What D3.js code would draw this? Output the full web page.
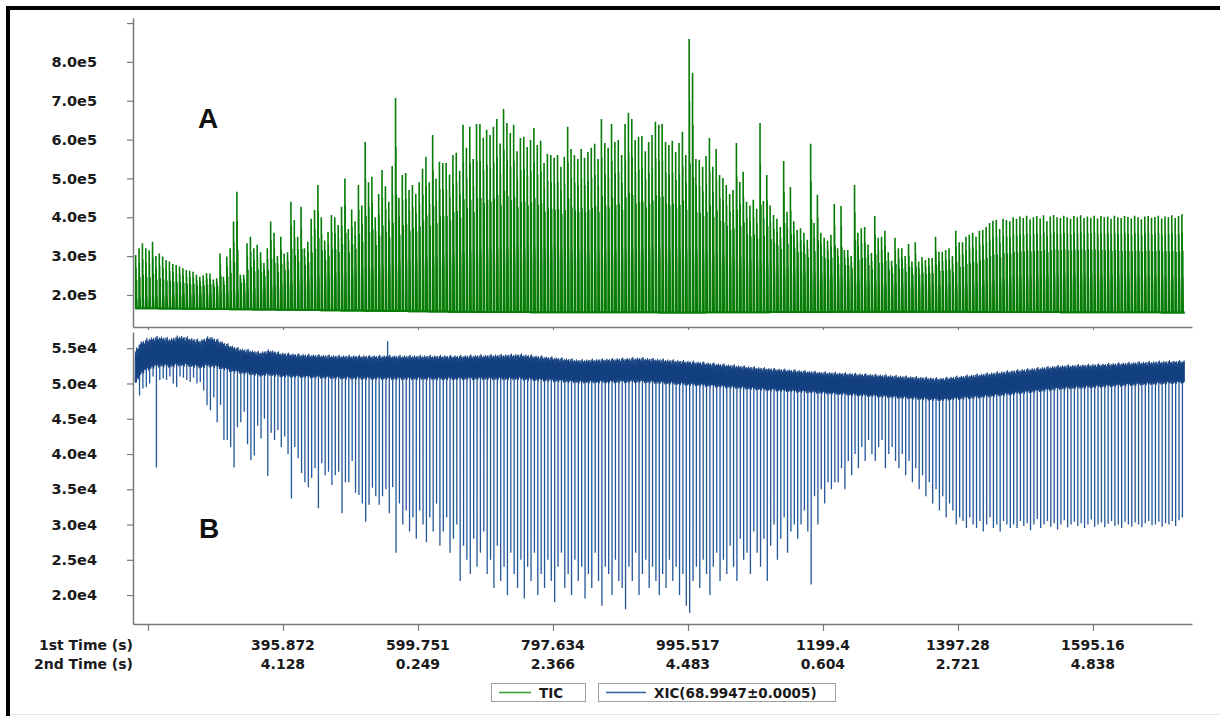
<!DOCTYPE html>
<html>
<head>
<meta charset="utf-8">
<script src="https://cdn.jsdelivr.net/npm/d3@7"></script>
<style>
  body { margin: 0; background: #fff; }
  svg { display: block; }
</style>
</head>
<body>
<script>
// ---- data ----

// x ticks: total time (s) and the two label rows
var tickTimes = [200, 400, 600, 800, 1000, 1200, 1400, 1600];
var firstTimeLabels = ["", "395.872", "599.751", "797.634", "995.517", "1199.4", "1397.28", "1595.16"];
var secondTimeLabels = ["", "4.128", "0.249", "2.366", "4.483", "0.604", "2.721", "4.838"];

// y ticks
var ticTicks = [2, 3, 4, 5, 6, 7, 8, 9];            // x1e5
var xicTicks = [2.0, 2.5, 3.0, 3.5, 4.0, 4.5, 5.0, 5.5]; // x1e4

// modulation cycles: one per 5 s, starting at 181 s
var cycleStart = 181, cyclePeriod = 5;

// TIC: main peak of each modulation cycle (x1e5)
var ticPeaks = [
  3.03, 3.2, 3.33, 3.2, 3.15, 3.37, 3.0, 3.07, 2.99, 2.9,
  2.86, 2.8, 2.77, 2.73, 2.69, 2.64, 2.62, 2.6, 2.52, 2.47,
  2.5, 2.56, 2.55, 2.4, 2.43, 3.07, 2.47, 2.99, 3.2, 3.89,
  4.66, 2.52, 2.52, 3.33, 3.5, 3.2, 3.29, 3.1, 2.82, 3.2,
  3.89, 3.6, 3.0, 3.5, 3.07, 3.1, 4.4, 3.93, 3.5, 4.27,
  3.2, 3.37, 3.96, 4.19, 4.83, 4.0, 3.4, 3.62, 4.06, 4.0,
  3.8, 4.27, 5.0, 3.7, 4.2, 3.9, 4.83, 4.3, 5.94, 4.9,
  5.04, 4.0, 4.6, 5.22, 4.8, 4.4, 5.32, 7.07, 4.5, 5.09,
  5.14, 4.7, 4.83, 4.6, 4.9, 5.25, 5.56, 4.9, 6.12, 5.0,
  5.43, 5.4, 5.4, 5.1, 5.6, 5.66, 5.2, 6.38, 5.79, 6.33,
  5.5, 6.4, 6.4, 6.05, 6.25, 6.12, 6.33, 6.53, 5.9, 6.79,
  6.43, 6.17, 6.38, 5.7, 6.04, 6.07, 5.81, 5.99, 6.3, 5.86,
  5.97, 5.4, 5.63, 5.6, 5.53, 5.6, 5.3, 5.56, 6.33, 5.76,
  5.6, 5.5, 5.76, 5.53, 5.68, 5.79, 5.89, 5.5, 6.53, 5.91,
  5.79, 6.4, 5.94, 5.99, 5.6, 6.4, 6.69, 6.53, 5.99, 6.07,
  6.09, 5.7, 5.94, 6.12, 6.46, 6.38, 6.4, 5.94, 5.86, 5.97,
  5.68, 5.91, 6.2, 5.6, 8.59, 7.72, 5.5, 5.48, 5.3, 5.58,
  6.04, 5.3, 5.76, 5.09, 5.01, 4.83, 4.6, 4.7, 5.91, 4.91,
  5.17, 4.4, 4.3, 4.45, 4.22, 6.43, 4.42, 5.09, 4.3, 4.06,
  3.96, 3.75, 5.45, 4.14, 4.78, 3.9, 3.67, 3.72, 3.6, 3.42,
  5.89, 3.85, 4.58, 3.6, 3.47, 3.4, 3.55, 4.34, 3.2, 4.29,
  3.16, 3.16, 3.0, 4.83, 3.6, 3.72, 3.75, 3.3, 3.08, 4.03,
  3.47, 3.5, 3.65, 3.1, 2.88, 3.47, 3.2, 3.2, 3.0, 3.31,
  2.86, 3.36, 2.86, 2.98, 2.9, 2.95, 2.95, 3.5, 3.11, 3.11,
  3.16, 3.2, 3.0, 3.65, 3.36, 3.36, 3.5, 3.55, 3.6, 3.5,
  3.65, 3.67, 3.75, 3.85, 3.91, 3.93, 3.7, 3.96, 3.93, 3.9,
  4.0, 3.96, 4.02, 3.98, 4.04, 3.95, 4.0, 4.03, 3.97, 4.05,
  3.9, 4.02, 4.06, 4.0, 3.98, 4.04, 4.0, 3.96, 4.03, 4.0,
  4.05, 3.98, 4.02, 3.99, 4.04, 3.97, 4.03, 4.0, 4.02, 3.96,
  4.04, 4.0, 3.98, 4.03, 4.01, 3.97, 4.04, 4.0, 3.95, 4.02,
  4.03, 3.99, 4.01, 4.04, 3.97, 4.02, 4.0, 4.05, 3.98, 4.03,
  4.08
];

// TIC dense band top and baseline (x1e5) at given times
var ticFillTimes  = [181, 250, 300, 350, 400, 450, 500, 550, 600, 650, 700, 750, 800, 850, 900, 950,
                     1000, 1050, 1100, 1150, 1200, 1250, 1300, 1350, 1400, 1450, 1500, 1550, 1600, 1650, 1700, 1736];
var ticFillValues = [1.95, 2.05, 2.1, 2.2, 2.35, 2.55, 2.7, 2.85, 3.0, 3.15, 3.25, 3.3, 3.3, 3.2, 3.25, 3.3,
                     3.25, 3.1, 2.95, 2.75, 2.6, 2.45, 2.35, 2.3, 2.3, 2.45, 2.55, 2.6, 2.6, 2.55, 2.55, 2.5];
var ticBaseTimes  = [181, 400, 700, 1000, 1300, 1500, 1736];
var ticBaseValues = [1.66, 1.62, 1.56, 1.55, 1.57, 1.56, 1.55];

// XIC: lowest point of the dip in each modulation cycle (x1e4)
var xicDips = [
  5.1, 4.83, 4.93, 4.95, 5.0, 5.1, 3.81, 5.05, 5.07, 5.05,
  5.1, 5.0, 4.95, 5.1, 5.08, 5.05, 5.02, 5.08, 5.0, 5.02,
  4.9, 4.69, 4.62, 4.8, 4.45, 4.7, 4.2, 4.2, 4.1, 3.81,
  4.38, 4.45, 4.6, 4.14, 3.91, 3.98, 4.4, 4.22, 4.5, 3.69,
  4.3, 4.2, 4.34, 4.1, 4.25, 4.0, 3.37, 4.1, 3.94, 3.73,
  3.6, 3.53, 3.66, 3.8, 3.23, 3.87, 3.7, 3.75, 3.56, 3.7,
  3.75, 3.16, 3.6, 3.6, 3.9, 3.45, 3.42, 3.3, 3.04, 3.28,
  3.52, 3.4, 3.28, 3.4, 3.5, 3.16, 3.53, 2.6,
  3.3, 3.0, 3.2, 2.9, 3.1, 2.8, 3.2, 3.0, 2.75, 3.1,
  2.9, 3.3, 2.7, 2.9, 3.1, 2.6, 2.8, 3.0, 2.2, 2.7,
  2.5, 2.3, 2.8, 2.4, 2.6, 2.9,
  2.3, 2.5, 2.1, 2.7, 2.2, 2.4, 2.0, 2.6, 2.3, 2.1,
  2.5, 1.95, 2.4, 2.2, 2.6, 2.0, 2.3, 2.1, 2.5, 2.2,
  1.9, 2.4, 2.6, 2.1, 2.3, 2.0, 2.5, 2.2, 2.4, 1.95,
  2.3, 2.1, 2.6, 2.2, 1.85, 2.4, 2.3, 2.0, 2.5, 2.2,
  2.1, 1.8, 2.4, 2.2, 2.6, 2.0, 2.3, 2.5, 2.1, 2.4,
  2.2, 2.0,
  2.3, 2.1, 2.5, 2.2, 2.4, 2.0, 2.3, 1.85, 1.75, 2.2,
  2.4, 2.1, 2.5, 2.3, 2.0, 2.4, 2.6, 2.2, 2.5, 2.3,
  2.7, 2.4, 2.2, 2.8, 2.5, 2.6, 2.3, 2.9, 2.6, 2.4,
  2.8, 2.2, 2.7, 3.0, 2.5, 2.8, 3.1, 2.6, 2.9, 3.0,
  2.8, 3.0, 3.2, 2.9, 2.15, 3.4, 3.0, 3.5, 3.3, 3.6,
  3.5, 3.6,
  3.6, 3.8, 3.5, 3.9, 3.7, 4.0, 3.8, 4.1, 3.9, 4.2,
  4.0, 3.9, 4.1, 4.2, 3.8, 4.0, 4.1, 3.9, 3.8, 4.0,
  3.7, 3.9, 3.6, 3.8, 3.5, 3.7, 3.4, 3.6, 3.3, 3.5,
  3.2, 3.4, 3.1, 3.3, 3.2, 3.0, 3.1, 3.05, 2.95, 3.1,
  3.0, 2.95, 3.05, 2.9, 3.0, 3.1, 2.95, 3.0, 2.9, 3.05,
  3.0, 2.95,
  3.0, 2.95, 3.05, 2.98, 3.02, 2.92, 3.0, 3.08, 2.95, 3.0,
  3.05, 2.97, 3.02, 2.93, 3.0, 3.06, 2.96, 3.0, 3.04, 2.98,
  3.02, 2.95, 3.0, 3.07, 2.97, 3.0, 3.03, 2.96, 3.01, 3.05,
  2.98, 3.0, 2.95, 3.04, 3.0, 2.97, 3.03, 3.0, 2.96, 3.02,
  3.05, 2.99, 3.0, 3.04, 2.97, 3.02, 3.0, 3.05, 2.98, 3.06,
  3.1
];

// XIC dense band: upper and lower edge (x1e4) at given times
var xicBandTimes  = [181, 188, 203, 218, 233, 247, 262, 277, 292, 307, 321, 336, 351, 366, 381, 396,
                     425, 484, 573, 662, 751, 840, 929, 1018, 1107, 1196, 1284, 1373, 1433, 1492,
                     1551, 1610, 1670, 1736];
var xicBandTop    = [5.44, 5.58, 5.64, 5.66, 5.63, 5.67, 5.64, 5.61, 5.66, 5.60, 5.54, 5.49, 5.47, 5.44, 5.47, 5.43,
                     5.41, 5.39, 5.39, 5.39, 5.41, 5.33, 5.36, 5.30, 5.22, 5.16, 5.12, 5.07, 5.13, 5.19,
                     5.25, 5.27, 5.30, 5.32];
var xicBandBottom = [5.00, 5.15, 5.24, 5.27, 5.26, 5.28, 5.27, 5.25, 5.27, 5.24, 5.20, 5.17, 5.15, 5.13, 5.14, 5.12,
                     5.11, 5.09, 5.08, 5.08, 5.08, 5.03, 5.04, 4.99, 4.93, 4.88, 4.83, 4.78, 4.82, 4.88,
                     4.94, 4.97, 5.00, 5.03];
// single upward spike in the XIC trace [time, x1e4]
var xicUpSpikes = [[555, 5.6]];

// shape of one modulation cycle (offset in s, relative level)
var ticCycleOffsets = [0.0, 0.35, 0.9, 1.4, 1.9, 2.4, 2.9, 3.4, 3.85, 4.99];
var ticCycleShape   = [0.0, 0.6, 0.95, 0.85, 1.05, 0.9, 1.0, 0.75, 0.0, 0.0];
var ticSubPeaks     = [[0.75, 1.0], [1.45, 0.7], [2.35, 0.4]];   // [offset s, share of main peak above band]
// XIC band outline over three cycles (offset s, relative level)
var xicCycleOffsets = [0.0, 0.6, 1.2, 1.8, 2.4, 3.0, 3.6, 4.2, 4.8,
                       5.3, 5.9, 6.5, 7.1, 7.7, 8.3, 8.9, 9.5,
                       10.1, 10.7, 11.3, 11.9, 12.5, 13.1, 13.7, 14.3];
var xicCycleTop     = [0.85, 1.0, 0.7, 0.9, 1.05, 0.8, 0.95, 0.72, 0.9,
                       0.78, 0.98, 0.86, 0.66, 0.94, 0.8, 1.02, 0.88,
                       0.92, 0.7, 0.96, 0.84, 1.0, 0.76, 0.9, 0.82];
var xicCycleBottom  = [0.05, 0.0, 0.12, -0.05, 0.0, 0.15, 0.0, 0.05, -0.1,
                       0.08, -0.05, 0.0, 0.14, 0.02, -0.08, 0.1, 0.0,
                       -0.04, 0.12, 0.0, 0.06, -0.1, 0.04, 0.0, 0.1];

// ---- layout ----
var W = 1220, H = 716;
var ticColor = "#077c07", xicColor = "#123f7f", axisColor = "#7a7a7a";

var svg = d3.select("body").append("svg")
    .attr("width", W)
    .attr("height", H);

// frame
svg.append("rect").attr("x", 0).attr("y", 0).attr("width", W).attr("height", H).attr("fill", "#fff");
svg.append("line").attr("x1", 6).attr("x2", W).attr("y1", 8).attr("y2", 8)
    .attr("stroke", "#000").attr("stroke-width", 4);
svg.append("line").attr("x1", 8).attr("x2", 8).attr("y1", 6).attr("y2", H)
    .attr("stroke", "#000").attr("stroke-width", 4);
svg.append("line").attr("x1", 10).attr("x2", W).attr("y1", 714.5).attr("y2", 714.5)
    .attr("stroke", "#e4e4e4").attr("stroke-width", 1);

// scales
var x = d3.scaleLinear().domain([177.8, 1746.7]).range([133, 1192]);
var yTic = d3.scaleLinear().domain([1.175, 9.13]).range([327, 18]);
var yXic = d3.scaleLinear().domain([1.59, 5.73]).range([624, 332]);

var ticFill = d3.scaleLinear().domain(ticFillTimes).range(ticFillValues);
var ticBase = d3.scaleLinear().domain(ticBaseTimes).range(ticBaseValues);
var xicTop = d3.scaleLinear().domain(xicBandTimes).range(xicBandTop);
var xicBot = d3.scaleLinear().domain(xicBandTimes).range(xicBandBottom);

// ---- TIC (panel A) ----
var ticBand = [];
ticPeaks.forEach(function(p, k) {
  var t0 = cycleStart + k * cyclePeriod;
  var b = ticBase(t0), f = ticFill(t0);
  ticCycleOffsets.forEach(function(o, i) {
    ticBand.push({t: t0 + o, lo: b, hi: b + ticCycleShape[i] * (f - b)});
  });
});

svg.append("path")
    .attr("fill", ticColor)
    .attr("d", d3.area()
      .x(d => x(d.t))
      .y0(d => yTic(d.lo) + 1)
      .y1(d => yTic(d.hi))(ticBand));

svg.append("path")
    .attr("fill", "none")
    .attr("stroke", ticColor)
    .attr("stroke-width", 2)
    .attr("d", d3.line().x(d => x(d.t)).y(d => yTic(d.lo))(ticBand));

var ticMain = "", ticMinor = "";
ticPeaks.forEach(function(p, k) {
  var t0 = cycleStart + k * cyclePeriod;
  var b = ticBase(t0), f = ticFill(t0);
  ticSubPeaks.forEach(function(s, i) {
    var top = f + s[1] * (p - f);
    var seg = "M" + x(t0 + s[0]) + "," + yTic(b) + "V" + yTic(top);
    if (i === 0) ticMain += seg;
    else ticMinor += seg;
  });
});
svg.append("path")
    .attr("fill", "none")
    .attr("stroke", ticColor)
    .attr("stroke-width", 1.6)
    .attr("d", ticMain);
svg.append("path")
    .attr("fill", "none")
    .attr("stroke", ticColor)
    .attr("stroke-width", 1.2)
    .attr("d", ticMinor);

// ---- XIC (panel B) ----
var xicBand = [];
for (var k = 0; k < xicDips.length; k += 3) {
  var t0 = cycleStart + k * cyclePeriod;
  xicCycleOffsets.forEach(function(o, i) {
    var t = t0 + o;
    if (t > cycleStart + xicDips.length * cyclePeriod) return;
    var top = xicTop(t), bot = xicBot(t);
    xicBand.push({t: t,
      lo: bot + xicCycleBottom[i] * (top - bot),
      hi: bot + xicCycleTop[i] * (top - bot)});
  });
}

var xicDipPath = "";
xicDips.forEach(function(dv, k) {
  var t0 = cycleStart + k * cyclePeriod;
  var top = xicTop(t0), bot = xicBot(t0);
  xicDipPath += "M" + x(t0 + 1.5) + "," + yXic(bot + 0.3 * (top - bot)) + "V" + yXic(dv);
});
xicUpSpikes.forEach(function(s) {
  xicDipPath += "M" + x(s[0]) + "," + yXic(xicBot(s[0])) + "V" + yXic(s[1]);
});
svg.append("path")
    .attr("fill", "none")
    .attr("stroke", "#24579a")
    .attr("stroke-width", 1.3)
    .attr("d", xicDipPath);

svg.append("path")
    .attr("fill", xicColor)
    .attr("stroke", xicColor)
    .attr("stroke-width", 0.8)
    .attr("d", d3.area()
      .x(d => x(d.t))
      .y0(d => yXic(d.lo))
      .y1(d => yXic(d.hi))(xicBand));

// ---- axes ----
function styleAxis(g) {
  g.select(".domain").attr("stroke", axisColor).attr("stroke-width", 1.5);
  g.selectAll(".tick line").attr("stroke", axisColor).attr("stroke-width", 1.2);
  g.selectAll(".tick text")
    .attr("fill", "#1a1a1a")
    .style("font-family", "'DejaVu Sans', Verdana, sans-serif")
    .style("font-weight", "bold")
    .style("font-size", "14.5px");
}

svg.append("g")
    .attr("transform", "translate(133,0)")
    .call(d3.axisLeft(yTic).tickValues(ticTicks).tickSize(6).tickSizeOuter(0).tickPadding(30)
      .tickFormat(d => d === 9 ? "" : d.toFixed(1) + "e5"))
    .call(styleAxis);

svg.append("g")
    .attr("transform", "translate(133,0)")
    .call(d3.axisLeft(yXic).tickValues(xicTicks).tickSize(6).tickSizeOuter(0).tickPadding(30)
      .tickFormat(d => d.toFixed(1) + "e4"))
    .call(styleAxis);

svg.append("g")
    .attr("transform", "translate(0,327)")
    .call(d3.axisBottom(x).tickValues(tickTimes).tickSize(3).tickSizeOuter(0).tickFormat(""))
    .call(styleAxis);

svg.append("g")
    .attr("transform", "translate(0,624)")
    .call(d3.axisBottom(x).tickValues(tickTimes).tickSize(7).tickSizeOuter(0).tickFormat(""))
    .call(styleAxis);

// two-row x labels
var labelFont = "'DejaVu Sans', Verdana, sans-serif";
svg.append("text").attr("x", 133).attr("y", 650).attr("text-anchor", "end")
    .style("font-family", labelFont).style("font-weight", "bold").style("font-size", "14px")
    .attr("fill", "#1a1a1a").text("1st Time (s)");
svg.append("text").attr("x", 133).attr("y", 669).attr("text-anchor", "end")
    .style("font-family", labelFont).style("font-weight", "bold").style("font-size", "14px")
    .attr("fill", "#1a1a1a").text("2nd Time (s)");

tickTimes.forEach(function(t, i) {
  svg.append("text").attr("x", x(t)).attr("y", 650).attr("text-anchor", "middle")
    .style("font-family", labelFont).style("font-weight", "bold").style("font-size", "14px")
    .attr("fill", "#1a1a1a").text(firstTimeLabels[i]);
  svg.append("text").attr("x", x(t)).attr("y", 669).attr("text-anchor", "middle")
    .style("font-family", labelFont).style("font-weight", "bold").style("font-size", "14px")
    .attr("fill", "#1a1a1a").text(secondTimeLabels[i]);
});

// panel letters
svg.append("text").attr("x", 198).attr("y", 128)
    .style("font-family", "'Liberation Sans', Arial, sans-serif").style("font-weight", "bold")
    .style("font-size", "28px").attr("fill", "#111").text("A");
svg.append("text").attr("x", 199).attr("y", 538)
    .style("font-family", "'Liberation Sans', Arial, sans-serif").style("font-weight", "bold")
    .style("font-size", "28px").attr("fill", "#111").text("B");

// legend
var legendItems = [
  {label: "TIC", color: "#3aa53a", x: 491, w: 94, line: 32},
  {label: "XIC(68.9947\u00b10.0005)", color: "#2f5f9f", x: 598, w: 237, line: 40}
];
legendItems.forEach(function(d) {
  var g = svg.append("g").attr("transform", "translate(" + d.x + ",683)");
  g.append("rect").attr("x", 0.5).attr("y", 0.5).attr("width", d.w).attr("height", 18)
    .attr("fill", "#fff").attr("stroke", "#a0a0a0");
  g.append("line").attr("x1", 8).attr("x2", 8 + d.line).attr("y1", 9.5).attr("y2", 9.5)
    .attr("stroke", d.color).attr("stroke-width", 1.6);
  g.append("text").attr("x", 16 + d.line).attr("y", 14.5)
    .style("font-family", labelFont).style("font-weight", "bold").style("font-size", "13.5px")
    .attr("fill", "#1a1a1a").text(d.label);
});
</script>
</body>
</html>
